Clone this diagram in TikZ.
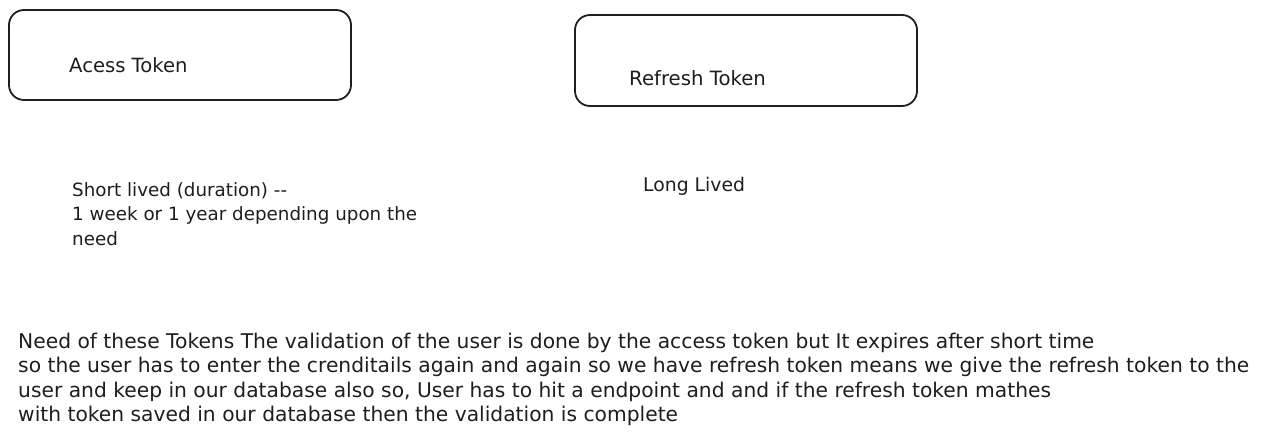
\documentclass[tikz,border=0pt]{standalone}
\usepackage{fontspec}
\setmainfont{DejaVu Sans}
\begin{document}
\begin{tikzpicture}[x=1pt,y=-1pt,
  ink/.style={draw=inkc, line width=1.8pt, rounded corners=15pt},
  txt/.style={text=inkc, inner sep=0pt, anchor=base west, align=left}]
\definecolor{inkc}{HTML}{1E1E1E}
\useasboundingbox[fill=white] (0,0) rectangle (1273,440);
% boxes
\draw[ink] (9,10) rectangle (351,100) node[midway, opacity=0] (boxA) {};
\draw[ink] (575,15) rectangle (917,106) node[midway, opacity=0] (boxB) {};
% labels (multi-line nodes: base anchor sits on the last line)
\node[txt, font=\fontsize{19.6}{24.5}\selectfont] (acc) at (69,72.5) {Acess Token};
\node[txt, font=\fontsize{19.7}{24.5}\selectfont] (ref) at (629,85) {Refresh Token};
\node[txt, font=\fontsize{18.3}{24.5}\selectfont] (short) at (72,245) {Short lived (duration) {-}{-}\\1 week or 1 year depending upon the\\need};
\node[txt, font=\fontsize{18.8}{24.5}\selectfont] (long) at (643,191.5) {Long Lived};
\node[txt, font=\fontsize{20.25}{24.5}\selectfont] (need) at (18,421.5) {Need of these Tokens The validation of the user is done by the access token but It expires after short time\\so the user has to enter the crenditails again and again so we have refresh token means we give the refresh token to the\\user and keep in our database also so, User has to hit a endpoint and and if the refresh token mathes\\with token saved in our database then the validation is complete};
\end{tikzpicture}
\end{document}
